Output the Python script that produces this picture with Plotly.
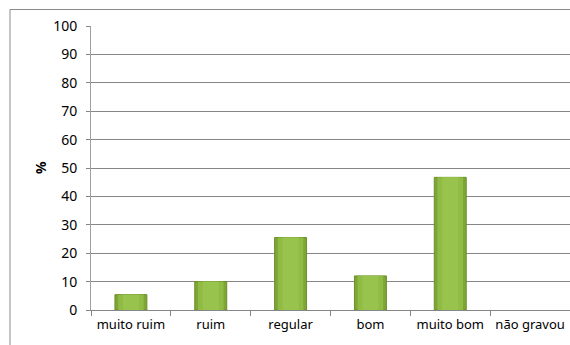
import plotly.graph_objects as go

categories = ["muito ruim", "ruim", "regular", "bom", "muito bom", "não gravou"]
values = [5.4, 10.0, 25.5, 12.0, 46.7, 0.0]
y_ticks = [0, 10, 20, 30, 40, 50, 60, 70, 80, 90, 100]

edge_w = [1 if v > 0 else 0 for v in values]

fig = go.Figure()
fig.add_trace(go.Bar(
    x=categories, y=values, width=0.4,
    marker=dict(color="#7ea536", line=dict(color="#6a8f27", width=edge_w)),
    hoverinfo="skip",
))
fig.add_trace(go.Bar(
    x=categories, y=values, width=0.32,
    marker=dict(color="#90bb45", line=dict(width=0)),
    hoverinfo="skip",
))
fig.add_trace(go.Bar(
    x=categories, y=values, width=0.2,
    marker=dict(color="#98c44d", line=dict(width=0)),
))

L, R, T, B = 91, 0, 26, 35
W, H = 570, 345
pw, ph = W - L - R, H - T - B

def px2x(px):
    return (px - L) / pw

def py2y(py):
    return (H - B - py) / ph

fig.add_shape(type="rect", xref="paper", yref="paper",
              x0=px2x(10), x1=px2x(575), y0=py2y(350), y1=py2y(9.5),
              line=dict(color="#8a8a8a", width=1), fillcolor="rgba(0,0,0,0)")

fig.add_annotation(text="<b>%</b>", xref="paper", yref="paper",
                   x=px2x(40), y=py2y(168), xanchor="center", yanchor="middle",
                   textangle=-90, showarrow=False,
                   font=dict(size=14, color="#000"))

fig.update_layout(
    width=W, height=H,
    margin=dict(l=L, r=R, t=T, b=B),
    paper_bgcolor="white", plot_bgcolor="white",
    showlegend=False, barmode="overlay",
    font=dict(family="Noto Sans, Open Sans, sans-serif", size=13, color="#000"),
)
fig.update_xaxes(
    type="category", showgrid=False, showline=True, linecolor="#868686",
    ticks="outside", tickson="boundaries", ticklen=5, tickcolor="#868686",
    tickfont=dict(size=13), tickangle=0, automargin=False, ticklabelstandoff=2,
)
fig.update_yaxes(
    range=[0, 100], tickvals=y_ticks, showgrid=True, gridcolor="#868686",
    gridwidth=1, showline=True, linecolor="#a0a0a0", ticks="outside",
    ticklen=4, tickcolor="#868686", zeroline=False, tickfont=dict(size=14),
    ticklabelstandoff=6, automargin=False,
)

fig.write_html("out.html")
